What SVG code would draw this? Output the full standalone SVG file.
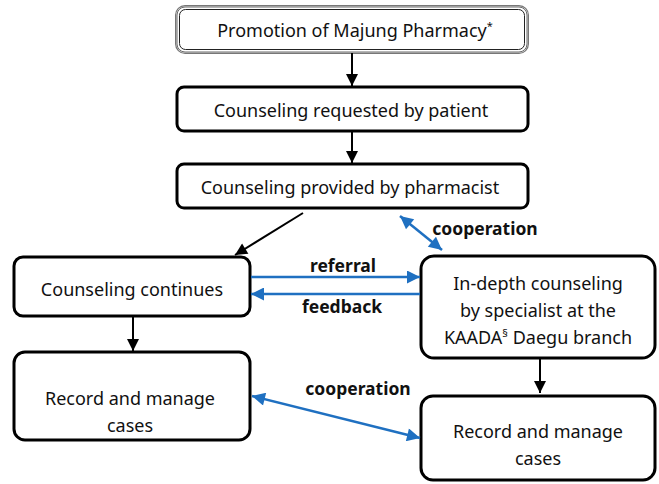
<svg xmlns="http://www.w3.org/2000/svg" width="659" height="484" viewBox="0 0 659 484">
  <style>
    .box { fill: #ffffff; stroke: #000000; stroke-width: 3; }
    .lbl { font-family: "Noto Sans", "Open Sans", sans-serif; font-size: 18px; fill: #111111; text-anchor: middle; }
    .edge-lbl { font-family: "Noto Sans", "Open Sans", sans-serif; font-size: 17.5px; font-weight: bold; fill: #111111; text-anchor: middle; }
    .blk { stroke: #000000; stroke-width: 2; fill: none; }
    .blu { stroke: #1f70c1; stroke-width: 2.5; fill: none; }
  </style>
  <defs>
    <marker id="ah-blue" viewBox="0 0 10 10" refX="10" refY="5" markerWidth="15" markerHeight="13" markerUnits="userSpaceOnUse" orient="auto-start-reverse">
      <path d="M0,0 L10,5 L0,10 Z" fill="#1f70c1" />
    </marker>
    <marker id="ah-blk" viewBox="0 0 10 10" refX="10" refY="5" markerWidth="13" markerHeight="12" markerUnits="userSpaceOnUse" orient="auto">
      <path d="M0,0 L10,5 L0,10 Z" fill="#000000" />
    </marker>
  </defs>

  <!-- top: promotion box with a double outline -->
  <g id="promotion">
    <rect x="177" y="7" width="350" height="45" rx="8" fill="#ffffff" stroke="#777777" stroke-width="4" />
    <rect x="177" y="7" width="350" height="45" rx="8" fill="#ffffff" stroke="#ffffff" stroke-width="1.5" />
    <rect x="179.5" y="9.5" width="345" height="40" rx="6" fill="none" stroke="#222222" stroke-width="1" />
    <rect x="177" y="7" width="350" height="45" rx="8" fill="none" stroke="#444444" stroke-width="0.8" />
    <text class="lbl" x="355" y="37">Promotion of Majung Pharmacy<tspan font-size="11" dy="-7">*</tspan></text>
  </g>

  <g id="requested">
    <rect class="box" x="177" y="87" width="351" height="44" rx="7" />
    <text class="lbl" x="351" y="116.5">Counseling requested by patient</text>
  </g>

  <g id="provided">
    <rect class="box" x="177" y="164" width="351" height="44" rx="7" />
    <text class="lbl" x="350" y="193.5">Counseling provided by pharmacist</text>
  </g>

  <g id="continues">
    <rect class="box" x="14" y="257" width="236" height="59" rx="9" />
    <text class="lbl" x="132" y="295.5">Counseling continues</text>
  </g>

  <g id="record-left">
    <rect class="box" x="14" y="352" width="236" height="88" rx="11" />
    <text class="lbl" x="130" y="404.5">Record and manage</text>
    <text class="lbl" x="130" y="431.5">cases</text>
  </g>

  <g id="in-depth">
    <rect class="box" x="421" y="256" width="234" height="102" rx="13" />
    <text class="lbl" x="538" y="289.5">In-depth counseling</text>
    <text class="lbl" x="538" y="316.5">by specialist at the</text>
    <text class="lbl" x="538" y="343.5">KAADA<tspan font-size="11" dy="-7">§</tspan><tspan dy="7"> Daegu branch</tspan></text>
  </g>

  <g id="record-right">
    <rect class="box" x="421" y="396" width="234" height="84" rx="12" />
    <text class="lbl" x="538" y="437.5">Record and manage</text>
    <text class="lbl" x="538" y="464.5">cases</text>
  </g>

  <!-- connectors -->
  <g id="connectors">
    <line class="blk" x1="352" y1="53" x2="352" y2="86" marker-end="url(#ah-blk)" />
    <line class="blk" x1="352" y1="132" x2="352" y2="163" marker-end="url(#ah-blk)" />
    <line class="blk" x1="303" y1="213" x2="235" y2="255" marker-end="url(#ah-blk)" />
    <line class="blk" x1="133" y1="317" x2="133" y2="351" marker-end="url(#ah-blk)" />
    <line class="blk" x1="540" y1="359" x2="540" y2="393" marker-end="url(#ah-blk)" />

    <line class="blu" x1="400" y1="216" x2="442" y2="250" marker-start="url(#ah-blue)" marker-end="url(#ah-blue)" />
    <line class="blu" x1="251" y1="277" x2="420" y2="277" marker-end="url(#ah-blue)" />
    <line class="blu" x1="420" y1="294" x2="251" y2="294" marker-end="url(#ah-blue)" />
    <line class="blu" x1="252" y1="396" x2="420" y2="438" marker-start="url(#ah-blue)" marker-end="url(#ah-blue)" />

    <text class="edge-lbl" x="485" y="235">cooperation</text>
    <text class="edge-lbl" x="343" y="272">referral</text>
    <text class="edge-lbl" x="342" y="313">feedback</text>
    <text class="edge-lbl" x="358" y="395">cooperation</text>
  </g>
</svg>
